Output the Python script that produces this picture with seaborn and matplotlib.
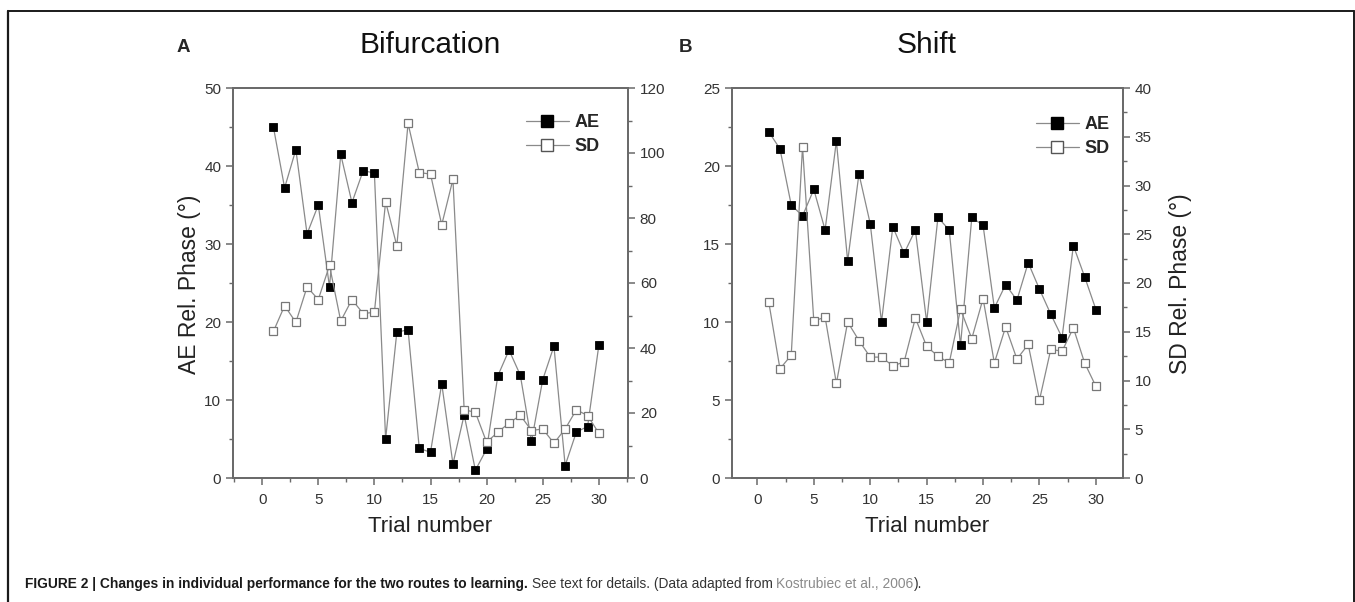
import matplotlib
matplotlib.use("Agg")
import matplotlib.pyplot as plt
import seaborn as sns
import numpy as np
import pandas as pd
from matplotlib.lines import Line2D
from matplotlib.ticker import MultipleLocator

# ---------------- data ----------------
trials = list(range(1, 31))

bif_ae = [45.0, 37.2, 42.1, 31.3, 35.0, 24.5, 41.5, 35.3, 39.4, 39.1,
          5.0, 18.7, 19.0, 3.8, 3.3, 12.1, 1.8, 8.1, 1.0, 3.7,
          13.1, 16.4, 13.2, 4.7, 12.6, 16.9, 1.6, 5.9, 6.6, 17.0]
bif_sd = [45.1, 53.0, 47.9, 58.8, 54.9, 65.4, 48.3, 54.9, 50.6, 51.0,
          85.0, 71.4, 109.1, 94.0, 93.5, 77.9, 91.9, 21.0, 20.2, 11.0,
          14.1, 16.9, 19.3, 14.6, 15.1, 10.7, 15.1, 21.0, 19.2, 13.8]

shift_ae = [22.2, 21.1, 17.5, 16.8, 18.5, 15.9, 21.6, 13.9, 19.5, 16.3,
            10.0, 16.1, 14.4, 15.9, 10.0, 16.7, 15.9, 8.5, 16.7, 16.2,
            10.9, 12.4, 11.4, 13.8, 12.1, 10.5, 9.0, 14.9, 12.9, 10.8]
shift_sd = [18.1, 11.2, 12.6, 34.0, 16.1, 16.5, 9.7, 16.0, 14.1, 12.4,
            12.4, 11.5, 11.9, 16.4, 13.5, 12.5, 11.8, 17.3, 14.3, 18.4,
            11.8, 15.5, 12.2, 13.7, 8.0, 13.2, 13.0, 15.4, 11.8, 9.4]

panel_titles = ["Bifurcation", "Shift"]
panel_letters = ["A", "B"]
series_names = ["AE", "SD"]
x_label = "Trial number"
left_label = "AE Rel. Phase (°)"
right_label = "SD Rel. Phase (°)"
caption_bold = "FIGURE 2 | Changes in individual performance for the two routes to learning."
caption_reg = " See text for details. (Data adapted from "
caption_ref = "Kostrubiec et al., 2006"
caption_end = ")."

# ---------------- style ----------------
sns.set_style("ticks")
plt.rcParams['font.family'] = ['Liberation Sans', 'DejaVu Sans']

W, H = 1355, 602
fig = plt.figure(figsize=(W / 100, H / 100), dpi=100)
fig.patch.set_facecolor("white")

SPINE = "#6a6a6a"
LINE = "#8a8a8a"
TXT = "#333333"

def px(x0, y0, x1, y1):
    return [x0 / W, 1 - y1 / H, (x1 - x0) / W, (y1 - y0) / H]

panels = [
    dict(rect=px(233, 88, 628, 478), ae=bif_ae, sd=bif_sd, xlim=(-2.6, 32.6),
         ylim_l=(0, 50), maj_l=10, min_l=5, ylim_r=(0, 120), maj_r=20, min_r=10,
         leg=(0.70, 0.975)),
    dict(rect=px(732, 88, 1123, 478), ae=shift_ae, sd=shift_sd, xlim=(-2.25, 32.4),
         ylim_l=(0, 25), maj_l=5, min_l=2.5, ylim_r=(0, 40), maj_r=5, min_r=2.5,
         leg=(0.735, 0.97)),
]

def style_axis(a):
    for s in a.spines.values():
        s.set_color(SPINE)
        s.set_linewidth(1.3)
    a.tick_params(which="major", direction="out", length=5, width=1.1,
                  color=SPINE, labelcolor=TXT, labelsize=11)
    a.tick_params(which="minor", direction="out", length=3, width=1.0, color=SPINE)

for p in panels:
    ax = fig.add_axes(p["rect"])
    ax2 = ax.twinx()
    df = pd.DataFrame({"trial": trials, "AE": p["ae"], "SD": p["sd"]})
    sns.lineplot(data=df, x="trial", y="AE", ax=ax, color=LINE, linewidth=0.9,
                 marker="s", markersize=5.5, markerfacecolor="black",
                 markeredgecolor="black", markeredgewidth=0.6, label="AE",
                 legend=False)
    sns.lineplot(data=df, x="trial", y="SD", ax=ax2, color=LINE, linewidth=0.9,
                 marker="s", markersize=5.5, markerfacecolor="white",
                 markeredgecolor="#777777", markeredgewidth=0.9, label="SD",
                 legend=False)
    ax.set_xlim(*p["xlim"])
    ax.set_ylim(*p["ylim_l"])
    ax2.set_ylim(*p["ylim_r"])
    ax.xaxis.set_major_locator(MultipleLocator(5))
    ax.xaxis.set_minor_locator(MultipleLocator(2.5))
    ax.yaxis.set_major_locator(MultipleLocator(p["maj_l"]))
    ax.yaxis.set_minor_locator(MultipleLocator(p["min_l"]))
    ax2.yaxis.set_major_locator(MultipleLocator(p["maj_r"]))
    ax2.yaxis.set_minor_locator(MultipleLocator(p["min_r"]))
    ax.set_xlabel("")
    ax.set_ylabel("")
    ax2.set_ylabel("")
    style_axis(ax)
    style_axis(ax2)
    ax.tick_params(axis="x", pad=6)
    ax.spines["top"].set_visible(True)
    ax2.spines["top"].set_visible(True)

    h1 = Line2D([], [], color=LINE, linewidth=0.9, marker="s", markersize=8.5,
                markerfacecolor="black", markeredgecolor="black")
    h2 = Line2D([], [], color=LINE, linewidth=0.9, marker="s", markersize=8.5,
                markerfacecolor="white", markeredgecolor="#555555")
    leg = ax2.legend([h1, h2], series_names, loc="upper left",
                     bbox_to_anchor=p["leg"], frameon=False, handlelength=2.4,
                     handletextpad=0.3, labelspacing=0.4,
                     prop={"weight": "bold", "size": 13})

# titles and letters
fig.text(430 / W, 1 - 45 / H, panel_titles[0], ha="center", va="center", fontsize=21.5, color="#111111")
fig.text(927 / W, 1 - 45 / H, panel_titles[1], ha="center", va="center", fontsize=21.5, color="#111111")
fig.text(183 / W, 1 - 47 / H, panel_letters[0], ha="center", va="center", fontsize=13.5, fontweight="bold")
fig.text(685 / W, 1 - 47 / H, panel_letters[1], ha="center", va="center", fontsize=13.5, fontweight="bold")

# axis labels
fig.text(430 / W, 1 - 527 / H, x_label, ha="center", va="center", fontsize=16, color="#222222")
fig.text(927 / W, 1 - 527 / H, x_label, ha="center", va="center", fontsize=16, color="#222222")
fig.text(190 / W, 1 - 284 / H, left_label, ha="center", va="center", rotation=90, fontsize=16.5, color="#222222")
fig.text(1180 / W, 1 - 284 / H, right_label, ha="center", va="center", rotation=90, fontsize=16.5, color="#222222")

# frame lines
lc = "#1a1a1a"
fig.add_artist(Line2D([8 / W, 1354 / W], [1 - 11 / H, 1 - 11 / H], transform=fig.transFigure, color=lc, linewidth=1.4))
fig.add_artist(Line2D([8 / W, 8 / W], [1 - 11 / H, 0], transform=fig.transFigure, color=lc, linewidth=1.6))
fig.add_artist(Line2D([1354 / W, 1354 / W], [1 - 11 / H, 0], transform=fig.transFigure, color=lc, linewidth=1.4))

# caption with mixed styles
renderer = fig.canvas.get_renderer()
x = 25 / W
yc = 1 - 584 / H
cap_size = 9.9
parts = [(caption_bold, "bold", "#1a1a1a"), (caption_reg, "normal", "#333333"),
         (caption_ref, "normal", "#8a8a8a"), (caption_end, "normal", "#333333")]
for txt, wt, col in parts:
    t = fig.text(x, yc, txt, ha="left", va="center", fontsize=cap_size,
                 fontweight=wt, color=col)
    bb = t.get_window_extent(renderer=renderer)
    x += bb.width / W

fig.savefig("out.png", dpi=100, facecolor="white")
